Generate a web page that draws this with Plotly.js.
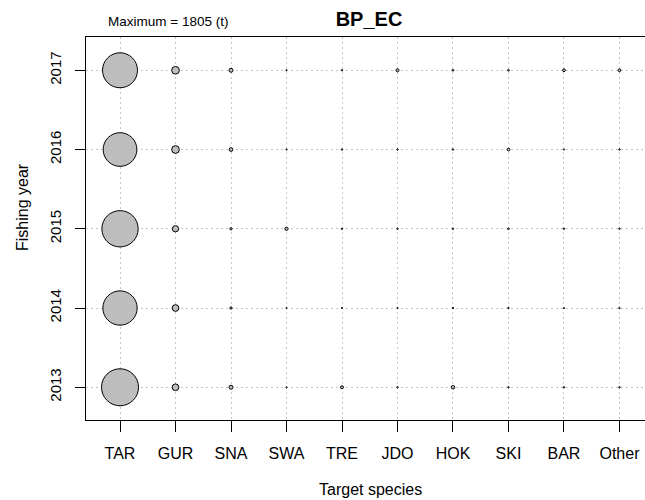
<!DOCTYPE html>
<html>
<head>
<meta charset="utf-8">
<script src="https://cdn.plot.ly/plotly-3.0.1.min.js"></script>
<style>
  html, body { margin: 0; padding: 0; background: #ffffff; }
  #chart { width: 645px; height: 500px; }
</style>
</head>
<body>
<div id="chart"></div>
<script>
// Target species (x categories) and fishing years (y rows)
const species = ["TAR", "GUR", "SNA", "SWA", "TRE", "JDO", "HOK", "SKI", "BAR", "Other"];
const years = [2013, 2014, 2015, 2016, 2017];

// Catch (t) by target species, one value per fishing year 2013..2017
const catchTAR   = [1805, 1551, 1737, 1497, 1615];
const catchGUR   = [59, 59, 52, 78, 78];
const catchSNA   = [21, 7, 7, 18, 21];
const catchSWA   = [2, 2, 14, 2, 2];
const catchTRE   = [12, 2, 3, 3, 3];
const catchJDO   = [3, 2, 3, 3, 12];
const catchHOK   = [16, 3, 3, 3, 4];
const catchSKI   = [3, 3, 4, 10, 4];
const catchBAR   = [3, 2, 3, 2, 10];
const catchOther = [3, 3, 3, 3, 10];

const catchBySpecies = [catchTAR, catchGUR, catchSNA, catchSWA, catchTRE,
                        catchJDO, catchHOK, catchSKI, catchBAR, catchOther];

const maxCatch = 1805;
const maxDiameter = 37;   // px, diameter of the largest bubble

// flatten into one bubble trace
const xs = [], ys = [], vals = [];
species.forEach((sp, i) => {
  years.forEach((yr, j) => {
    xs.push(sp);
    ys.push(yr);
    vals.push(catchBySpecies[i][j]);
  });
});

const font = "Liberation Sans, Arial, Helvetica, sans-serif";
const gridDash = "2px,3px";

const trace = {
  type: "scatter",
  mode: "markers",
  x: xs,
  y: ys,
  hoverinfo: "x+y+text",
  text: vals.map(v => v + " t"),
  marker: {
    size: vals,
    sizemode: "area",
    sizeref: 2 * maxCatch / (maxDiameter * maxDiameter),
    color: "#bebebe",
    opacity: 1,
    line: { color: "#000000", width: 1 }
  },
  cliponaxis: false,
  showlegend: false
};

const layout = {
  width: 645,
  height: 500,
  margin: { l: 86, r: 0, t: 37, b: 80, pad: 0 },
  paper_bgcolor: "#ffffff",
  plot_bgcolor: "#ffffff",
  font: { family: font, color: "#000000", size: 16 },
  title: {
    text: "<b>BP_EC</b>",
    font: { family: font, size: 20, color: "#000000" },
    xref: "container", yref: "container",
    x: 369 / 645, y: 1 - 19 / 500,
    xanchor: "center", yanchor: "middle"
  },
  xaxis: {
    type: "category",
    categoryorder: "array",
    categoryarray: species,
    range: [-0.613, 9.46],
    showline: true, mirror: true,
    linecolor: "#000000", linewidth: 1.2,
    ticks: "outside", ticklen: 11, tickcolor: "#000000", tickwidth: 1,
    showgrid: true, gridcolor: "#c4c4c4", griddash: gridDash, gridwidth: 1,
    zeroline: false,
    tickfont: { family: font, size: 16, color: "#000000" },
    ticklabelstandoff: 8,
    fixedrange: true
  },
  yaxis: {
    range: [2012.587, 2017.42],
    tickvals: years,
    ticktext: years.map(String),
    tickangle: -90,
    showline: true, mirror: false,
    linecolor: "#000000", linewidth: 1.2,
    ticks: "outside", ticklen: 10, tickcolor: "#000000", tickwidth: 1,
    showgrid: true, gridcolor: "#c4c4c4", griddash: gridDash, gridwidth: 1,
    zeroline: false,
    tickfont: { family: font, size: 15, color: "#000000" },
    ticklabelstandoff: 8,
    fixedrange: true
  },
  annotations: [
    {
      text: "Maximum = 1805 (t)",
      xref: "paper", yref: "paper",
      x: (168 - 86) / 559, y: (420 - 22) / 383,
      xanchor: "center", yanchor: "middle",
      showarrow: false,
      font: { family: font, size: 13.5, color: "#000000" }
    },
    {
      text: "Target species",
      xref: "paper", yref: "paper",
      x: (370 - 86) / 559, y: (420 - 489) / 383,
      xanchor: "center", yanchor: "middle",
      showarrow: false,
      font: { family: font, size: 16, color: "#000000" }
    },
    {
      text: "Fishing year",
      xref: "paper", yref: "paper",
      x: (22 - 86) / 559, y: (420 - 207) / 383,
      xanchor: "center", yanchor: "middle",
      textangle: -90,
      showarrow: false,
      font: { family: font, size: 16, color: "#000000" }
    }
  ]
};

Plotly.newPlot("chart", [trace], layout, { staticPlot: true, displayModeBar: false });
</script>
</body>
</html>
